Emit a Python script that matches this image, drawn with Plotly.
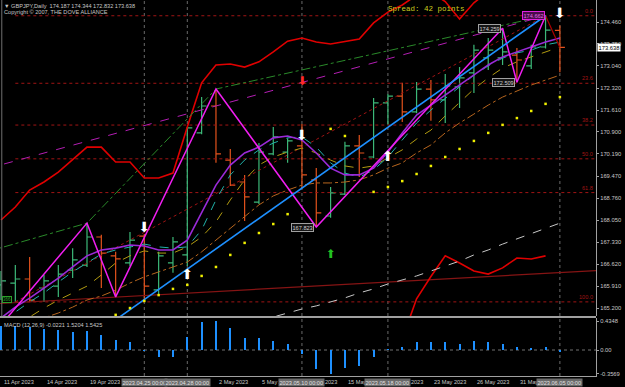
import plotly.graph_objects as go

# ---------------- data ----------------
days = ["2023-04-10", "2023-04-11", "2023-04-12", "2023-04-13", "2023-04-14",
        "2023-04-17", "2023-04-18", "2023-04-19", "2023-04-20", "2023-04-21",
        "2023-04-24", "2023-04-25", "2023-04-26", "2023-04-27", "2023-04-28",
        "2023-05-01", "2023-05-02", "2023-05-03", "2023-05-04", "2023-05-05",
        "2023-05-08", "2023-05-09", "2023-05-10", "2023-05-11", "2023-05-12",
        "2023-05-15", "2023-05-16", "2023-05-17", "2023-05-18", "2023-05-19",
        "2023-05-22", "2023-05-23", "2023-05-24", "2023-05-25", "2023-05-26",
        "2023-05-29", "2023-05-30", "2023-05-31", "2023-06-01", "2023-06-02",
        "2023-06-05"]
bar_dates = days[1:]

opens = [165.95, 166.01, 166.14, 165.85, 165.91, 166.43, 166.59, 167.50, 166.89, 166.66,
         167.53, 165.79, 166.66, 166.92, 170.87, 171.74, 169.99, 169.28, 168.63, 170.19,
         170.25, 170.45, 169.35, 168.18, 168.89, 170.45, 170.09, 171.84, 172.06, 171.55,
         172.29, 171.94, 172.36, 172.81, 173.30, 173.30, 173.39, 173.04, 173.65, 174.187]
highs = [166.40, 166.59, 166.85, 166.27, 166.59, 167.14, 167.95, 167.57, 167.02, 167.66,
         167.60, 167.02, 167.50, 171.06, 172.03, 172.29, 170.35, 169.51, 170.54, 171.06,
         170.70, 171.16, 169.73, 169.12, 170.58, 170.80, 172.00, 172.13, 172.49, 172.52,
         172.58, 172.78, 173.00, 173.72, 173.94, 174.259, 173.62, 173.72, 174.662, 174.344]
lows = [165.46, 165.40, 165.40, 165.40, 165.56, 166.17, 166.53, 165.85, 165.56, 166.56,
        165.46, 165.62, 166.34, 166.56, 170.83, 169.90, 169.15, 168.02, 168.57, 170.15,
        169.90, 169.09, 167.823, 168.12, 168.86, 169.44, 170.05, 171.13, 171.22, 171.51,
        171.26, 171.19, 171.68, 172.16, 172.91, 173.07, 172.509, 172.94, 173.60, 172.832]
closes = [166.08, 166.14, 165.46, 166.08, 166.30, 166.76, 167.50, 166.98, 166.79, 167.40,
          165.91, 166.89, 167.34, 171.03, 171.74, 170.19, 169.18, 168.80, 170.25, 170.74,
          170.61, 169.51, 168.28, 168.93, 170.45, 170.22, 171.84, 172.06, 171.55, 172.29,
          171.94, 172.39, 172.65, 173.55, 173.55, 173.49, 173.23, 173.65, 174.20, 173.638]

ma_purple = [164.88, 165.23, 165.52, 165.85, 166.17, 166.53, 166.89, 167.08, 167.14, 167.24,
             167.21, 167.08, 167.08, 167.40, 168.28, 169.18, 169.83, 170.22, 170.41, 170.71,
             170.77, 170.64, 170.22, 169.73, 169.51, 169.51, 169.73, 170.25, 170.87, 171.45,
             171.77, 172.10, 172.42, 172.74, 173.07, 173.33, 173.49, 173.65, 173.81, 173.94]
ma_teal = [164.81, 165.07, 165.40, 165.69, 166.04, 166.37, 166.66, 166.95, 167.08, 167.18,
           167.27, 167.18, 167.14, 167.18, 167.73, 168.70, 169.51, 169.99, 170.32, 170.54,
           170.71, 170.74, 170.41, 169.90, 169.57, 169.44, 169.67, 170.09, 170.64, 171.19,
           171.61, 171.97, 172.36, 172.74, 173.04, 173.29, 173.46, 173.55, 173.72, 173.81]
ma_olive = [164.33, 164.65, 164.91, 165.20, 165.46, 165.69, 165.91, 166.27, 166.66, 166.89,
            167.05, 166.98, 166.98, 167.18, 167.50, 167.99, 168.70, 169.35, 169.83, 170.09,
            170.25, 170.38, 170.22, 169.99, 169.80, 169.73, 169.80, 170.06, 170.32, 170.67,
            170.96, 171.42, 171.84, 172.29, 172.65, 172.97, 173.17, 173.33, 173.49, 173.65]
ma_brown = [164.40, 164.56, 164.72, 164.88, 165.04, 165.23, 165.46, 165.59, 165.78, 166.01,
            166.21, 166.37, 166.53, 166.69, 167.02, 167.40, 167.79, 168.18, 168.54, 168.83,
            169.02, 169.18, 169.25, 169.25, 169.28, 169.35, 169.51, 169.73, 169.90, 170.22,
            170.48, 170.87, 171.19, 171.48, 171.77, 172.03, 172.23, 172.42, 172.58, 172.74]
upper_band = [168.05, 168.47, 169.02, 169.28, 169.60, 169.99, 170.41, 170.41, 169.93, 169.93,
              169.41, 169.41, 169.57, 171.06, 172.49, 173.07, 173.10, 173.00, 173.17, 173.49,
              173.84, 173.94, 173.81, 173.75, 173.84, 173.91, 174.43, 174.78, 175.01, 175.33,
              175.43, 175.12, 174.56, 175.08, 175.45, 175.60, 175.70, 175.70, 175.80, 175.80]
lower_band_dates = bar_dates[28:]
lower_band = [164.20, 165.50, 166.22, 166.89, 166.66, 166.40, 166.30, 166.50, 166.82, 166.79, 166.89]
slow_ma_dates = bar_dates[18:]
slow_ma = [164.78, 164.91, 165.04, 165.17, 165.27, 165.40, 165.53, 165.69, 165.82, 165.98, 166.11,
           166.24, 166.40, 166.56, 166.72, 166.92, 167.08, 167.27, 167.44, 167.60, 167.79, 167.95]

sar_dates = ["2023-04-21", "2023-04-24", "2023-04-25", "2023-04-26", "2023-04-27", "2023-04-28",
             "2023-05-01", "2023-05-02", "2023-05-03", "2023-05-04", "2023-05-05", "2023-05-08",
             "2023-05-09", "2023-05-12", "2023-05-15", "2023-05-17", "2023-05-18", "2023-05-19",
             "2023-05-22", "2023-05-23", "2023-05-24", "2023-05-25", "2023-05-26", "2023-05-29",
             "2023-05-30", "2023-05-31", "2023-06-01", "2023-06-02", "2023-06-05"]
sar_values = [164.98, 165.20, 165.43, 165.62, 165.82, 165.95, 166.24, 166.53, 166.92, 167.31,
              167.63, 167.92, 168.24, 171.00, 170.77, 168.96, 169.12, 169.31, 169.54, 169.80,
              170.09, 170.35, 170.61, 170.87, 171.13, 171.35, 171.58, 171.81, 172.03]

zigzag_dates = ["2023-04-10", "2023-04-19", "2023-04-21", "2023-05-02", "2023-05-11",
                "2023-05-30", "2023-05-31", "2023-06-02"]
zigzag_prices = [164.10, 167.95, 165.56, 172.29, 167.823, 174.259, 172.509, 174.662]
zigzag_last_dates = ["2023-06-02", "2023-06-05"]
zigzag_last_prices = [174.662, 173.638]

peak_line_dates = ["2023-04-10", "2023-04-19", "2023-05-02", "2023-06-02"]
peak_line_prices = [167.02, 167.95, 172.29, 174.662]
channel_dates = ["2023-04-10", "2023-06-02"]
channel_prices = [169.71, 174.662]
blue_dates = ["2023-04-21", "2023-06-02"]
blue_prices = [164.82, 174.662]
support_dates = ["2023-04-11", "2023-06-05"]
support_prices = [165.35, 166.35]

fib_dates = ["2023-04-12", "2023-06-02"]
fib_prices = [165.40, 174.662]
fib_ratios = [0.0, 23.6, 38.2, 50.0, 61.8, 100.0]

fractal_dates = ["2023-04-25", "2023-04-28", "2023-05-10", "2023-05-18", "2023-06-05"]
arrow_down_dates = ["2023-04-25", "2023-05-10", "2023-06-05"]
arrow_down_prices = [167.76, 170.74, 174.69]
arrow_up_dates = ["2023-04-28", "2023-05-18"]
arrow_up_prices = [166.27, 170.06]
signal_sell_date, signal_sell_price = "2023-05-10", 172.52
signal_buy_date, signal_buy_price = "2023-05-12", 166.92

macd_hist = [0.364, 0.364, 0.348, 0.318, 0.303, 0.273, 0.288, 0.227, 0.152, 0.121,
             -0.01, -0.106, -0.106, 0.197, 0.424, 0.4348, 0.333, 0.182, 0.182, 0.136,
             0.091, -0.06, -0.288, -0.3569, -0.273, -0.242, -0.106, 0.008, 0.045, 0.121,
             0.121, 0.121, 0.091, 0.136, 0.121, 0.091, 0.045, 0.030, 0.045, -0.0221]

price_ticks = [174.460, 173.750, 173.040, 172.320, 171.610, 170.900, 170.190,
               169.470, 168.760, 168.050, 167.330, 166.620, 165.910, 165.200]
macd_ticks = [0.4348, 0.0, -0.3569]
macd_tick_text = ["0.4348", "0.00", "-0.3569"]
date_label_dates = ["2023-04-11", "2023-04-14", "2023-04-19", "2023-05-02", "2023-05-05",
                    "2023-05-10", "2023-05-15", "2023-05-18", "2023-05-23", "2023-05-26",
                    "2023-05-31"]
date_label_text = ["11 Apr 2023", "14 Apr 2023", "19 Apr 2023", "2 May 2023", "5 May 2023",
                   "10 May 2023", "15 May 2023", "18 May 2023", "23 May 2023", "26 May 2023",
                   "31 May 2023"]
zigzag_labels = [("2023-05-11", 167.823, "167.823"), ("2023-05-30", 174.259, "174.259"),
                 ("2023-05-31", 172.509, "172.509")]
zigzag_top_label = ("2023-06-02", 174.662, "174.662")

header1 = "▼ GBPJPY,Daily  174.187 174.344 172.832 173.638"
header2 = "Copyright © 2007, THE DOVE ALLIANCE"
spread_text = "Spread: 42 points"
macd_title = "MACD (12,26,9) -0.0221 1.5204 1.5425"
last_price = 173.638

# ---------------- helpers ----------------
def X(ds):
    return [days.index(d) for d in ds]

X_MIN, X_MAX = 0.93, 42.52
Y_MIN, Y_MAX = 164.943, 175.172
M_MIN, M_MAX = -0.394, 0.485

def extend(dates2, prices2, x0, x1):
    a, b = X(dates2)
    slope = (prices2[1] - prices2[0]) / (b - a)
    return [x0, x1], [prices2[0] + slope * (x0 - a), prices2[0] + slope * (x1 - a)]

GREEN = "#3cb878"
RED = "#e2521c"
FIBC = "#a01414"
AX = "#c8c8c8"
FONT = "Liberation Sans"

fig = go.Figure()

def line(x, y, color, width=1, dash="solid", name=""):
    fig.add_trace(go.Scatter(x=x, y=y, mode="lines", line=dict(color=color, width=width, dash=dash),
                             hoverinfo="skip", xaxis="x", yaxis="y", name=name))

# fibonacci
fx = X(fib_dates)
lo, hi = fib_prices
for r in fib_ratios:
    lvl = hi - r / 100.0 * (hi - lo)
    line([fx[0], X_MAX], [lvl, lvl], FIBC, 1, "dot")
line(fx, [lo, hi], FIBC, 1, "dot")

# support trend line
sx, sy = extend(support_dates, support_prices, X_MIN, X_MAX)
line(sx, sy, "#851414", 1.2)

# bands and MAs
bx = X(bar_dates)
line(bx, upper_band, "#e00000", 1.6)
line(X(lower_band_dates), lower_band, "#e00000", 1.6)
line(X(slow_ma_dates), slow_ma, "#c8c8c8", 1, "dash")
line(bx, ma_brown, "#b8661e", 1, "dashdot")
line(bx, ma_olive, "#b09a10", 1, "dash")
line(bx, ma_teal, "#20b2aa", 1, "dash")
line(bx, ma_purple, "#9a2ad8", 1.6)
line(X(peak_line_dates), peak_line_prices, "#2a8a2a", 1, "dashdot")
line(X(channel_dates), channel_prices, "#b41eb4", 1, "dash")

# OHLC bars
fig.add_trace(go.Ohlc(x=bx, open=opens, high=highs, low=lows, close=closes,
                      increasing=dict(line=dict(color=GREEN, width=1.2)),
                      decreasing=dict(line=dict(color=RED, width=1.2)),
                      tickwidth=0.35, hoverinfo="skip", xaxis="x", yaxis="y"))

# zigzag & blue line
line(X(zigzag_dates), zigzag_prices, "#f01ef0", 1.5)
line(X(zigzag_last_dates), zigzag_last_prices, "#b00000", 1.2)
bxl, byl = extend(blue_dates, blue_prices, X(blue_dates)[0], X(blue_dates)[1])
line(bxl, byl, "#1e90ff", 1.6)

# SAR
fig.add_trace(go.Scatter(x=X(sar_dates), y=sar_values, mode="markers",
                         marker=dict(symbol="square", size=2.5, color="#f0f000"),
                         hoverinfo="skip", xaxis="x", yaxis="y"))

# arrows
def arrows(ds, ps, glyph, color, size):
    fig.add_trace(go.Scatter(x=X(ds), y=ps, mode="text", text=[glyph] * len(ds),
                             textfont=dict(color=color, size=size, family="DejaVu Sans"),
                             hoverinfo="skip", xaxis="x", yaxis="y"))

arrows(arrow_down_dates, arrow_down_prices, "⬇", "#ffffff", 14)
arrows(arrow_up_dates, arrow_up_prices, "⬆", "#ffffff", 14)
arrows([signal_sell_date], [signal_sell_price], "⬇", "#ff2a2a", 12)
arrows([signal_buy_date], [signal_buy_price], "⬆", "#22c022", 12)

# MACD
fig.add_trace(go.Bar(x=bx, y=macd_hist, marker=dict(color="#1e90ff", line=dict(width=0)),
                     width=0.14, hoverinfo="skip", xaxis="x2", yaxis="y2"))

# ---------------- layout ----------------
W, H = 625, 387
ml, mr, mt, mb = 0, 29, 0, 11
ph = H - mt - mb
main_bottom = (ph - 316) / ph
macd_top = (ph - 318) / ph

shapes = []
for d in fractal_dates:
    shapes.append(dict(type="line", xref="x", yref="paper", x0=days.index(d), x1=days.index(d),
                       y0=0, y1=1, line=dict(color="#6a6a6a", width=1, dash="dot"), layer="below"))
shapes.append(dict(type="line", xref="paper", yref="paper", x0=0, x1=1,
                   y0=(ph - 317) / ph, y1=(ph - 317) / ph, line=dict(color="#a0a0a0", width=2)))
shapes.append(dict(type="line", xref="paper", yref="y2", x0=0, x1=1, y0=0, y1=0,
                   line=dict(color="#707070", width=1, dash="dot"), layer="below"))
shapes.append(dict(type="line", xref="paper", yref="paper", x0=0.003, x1=0.003,
                   y0=main_bottom, y1=1, line=dict(color="#707070", width=1)))

ann = []
def text(x, y, t, size=5.6, color=AX, xref="paper", yref="paper", xanchor="left",
         yanchor="middle", family=FONT, **kw):
    ann.append(dict(x=x, y=y, xref=xref, yref=yref, text=t, showarrow=False, xanchor=xanchor,
                    yanchor=yanchor, font=dict(size=size, color=color, family=family), **kw))

text(0.004, 1 - 5.7 / ph, header1)
text(0.004, 1 - 11.7 / ph, header2)
text(386 / 596, 1 - 9 / ph, spread_text, size=7.5, color="#cccc1e", family="Liberation Mono")
text(0.004, (ph - 325) / ph, macd_title)
text(0.004, 165.47, "366", size=4.5, color="#2aa02a", yref="y", bordercolor="#2aa02a",
     borderwidth=1, borderpad=0)

for r in fib_ratios:
    lvl = hi - r / 100.0 * (hi - lo)
    text(0.998, lvl, "%.1f" % r, size=5.6, color=FIBC, yref="y", xanchor="right",
         yanchor="bottom")

for d, p, t in zigzag_labels:
    text(days.index(d), p, t, size=5.6, color="#d0d0d0", xref="x", yref="y", xanchor="right",
         xshift=-2, bgcolor="#151515", bordercolor="#a0a0a0", borderwidth=1, borderpad=0.5)
d, p, t = zigzag_top_label
text(days.index(d), p, t, size=5.6, color="#e070e0", xref="x", yref="y", xanchor="right",
     xshift=-1, bgcolor="#4a0a4a", bordercolor="#e020e0", borderwidth=1, borderpad=0.5)

for d, t in zip(date_label_dates, date_label_text):
    text(days.index(d), -6 / ph, t, size=5.6, color=AX, xref="x2", xshift=1)
for d in fractal_dates:
    text(days.index(d), -6 / ph, d.replace("-", ".") + " 00:00", size=5.6, color="#e0e0e0",
         xref="x2", xanchor="center", bgcolor="#6a6a6a", borderpad=0.5)

text(1, last_price, "%.3f" % last_price, size=5.8, color="#000000", yref="y", xshift=1,
     bgcolor="#ffffff", borderpad=0.5)

fig.update_layout(
    width=W, height=H, margin=dict(l=ml, r=mr, t=mt, b=mb),
    paper_bgcolor="#000000", plot_bgcolor="#000000", showlegend=False, hovermode=False,
    bargap=0,
    xaxis=dict(domain=[0, 1], range=[X_MIN, X_MAX], anchor="y", showticklabels=False,
               showgrid=False, zeroline=False, rangeslider=dict(visible=False), fixedrange=True),
    yaxis=dict(domain=[main_bottom, 1], range=[Y_MIN, Y_MAX], side="right", showgrid=False,
               zeroline=False, tickvals=price_ticks, ticktext=["%.3f" % v for v in price_ticks],
               tickfont=dict(size=5.8, color=AX, family=FONT), showline=True, linecolor="#a0a0a0",
               linewidth=1, ticks="outside", ticklen=2, tickcolor="#a0a0a0"),
    xaxis2=dict(domain=[0, 1], range=[X_MIN, X_MAX], anchor="y2", matches="x",
                showticklabels=False, showgrid=False, zeroline=False, showline=True,
                linecolor="#a0a0a0", linewidth=1),
    yaxis2=dict(domain=[0, macd_top], range=[M_MIN, M_MAX], side="right", showgrid=False,
                zeroline=False, tickvals=macd_ticks, ticktext=macd_tick_text,
                tickfont=dict(size=5.8, color=AX, family=FONT), showline=True,
                linecolor="#a0a0a0", linewidth=1, ticks="outside", ticklen=2,
                tickcolor="#a0a0a0"),
    shapes=shapes, annotations=ann,
)

fig.write_html("out.html")
